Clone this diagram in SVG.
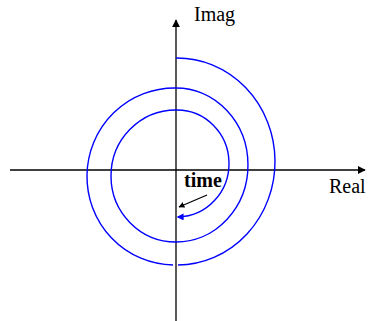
<svg xmlns="http://www.w3.org/2000/svg" width="371" height="321" viewBox="0 0 371 321">
<style>
.axis{stroke:#000;stroke-width:1.3;fill:none}
.sp{stroke:#0000ff;stroke-width:1.4;fill:none}
.lbl{font-family:"Liberation Serif","Times New Roman",serif;font-size:20px;fill:#000}
.bold{font-weight:bold}
</style>
<defs>
<marker id="ah" viewBox="0 0 10 10" refX="9" refY="5" markerWidth="8" markerHeight="8" markerUnits="userSpaceOnUse" orient="auto">
<path d="M0,0 L10,5 L0,10 z" fill="#000"/>
</marker>
<marker id="ahs" viewBox="0 0 10 10" refX="9" refY="5" markerWidth="6" markerHeight="6" markerUnits="userSpaceOnUse" orient="auto">
<path d="M0,0 L10,5 L0,10 z" fill="#000"/>
</marker>
<marker id="ahb" viewBox="0 0 10 10" refX="8" refY="5" markerWidth="7" markerHeight="7" markerUnits="userSpaceOnUse" orient="auto">
<path d="M0,0 L10,5 L0,10 z" fill="#0000ff"/>
</marker>
</defs>
<g id="connectors">
<line class="axis" x1="176" y1="321" x2="176" y2="20" marker-end="url(#ah)"/>
<line class="axis" x1="10" y1="170" x2="365" y2="170" marker-end="url(#ah)"/>
<line class="axis" x1="207" y1="195" x2="179" y2="207" marker-end="url(#ahs)"/>
</g>
<g id="spiral">
<path class="sp" d="M176,58 A98,103.5 0 0 1 178,265"/>
<path class="sp" d="M173,265 A87.5,88.5 0 0 1 176,88"/>
<path class="sp" d="M176,88 A72,77 0 0 1 176,242"/>
<path class="sp" d="M176,242 A65,66 0 0 1 176,110"/>
<path class="sp" d="M176,110 A52,53.5 0 0 1 178,217" marker-end="url(#ahb)"/>
</g>
<g id="labels">
<text class="lbl" x="194" y="21">Imag</text>
<text class="lbl" x="329" y="193">Real</text>
<text class="lbl bold" x="184" y="187">time</text>
</g>
</svg>
